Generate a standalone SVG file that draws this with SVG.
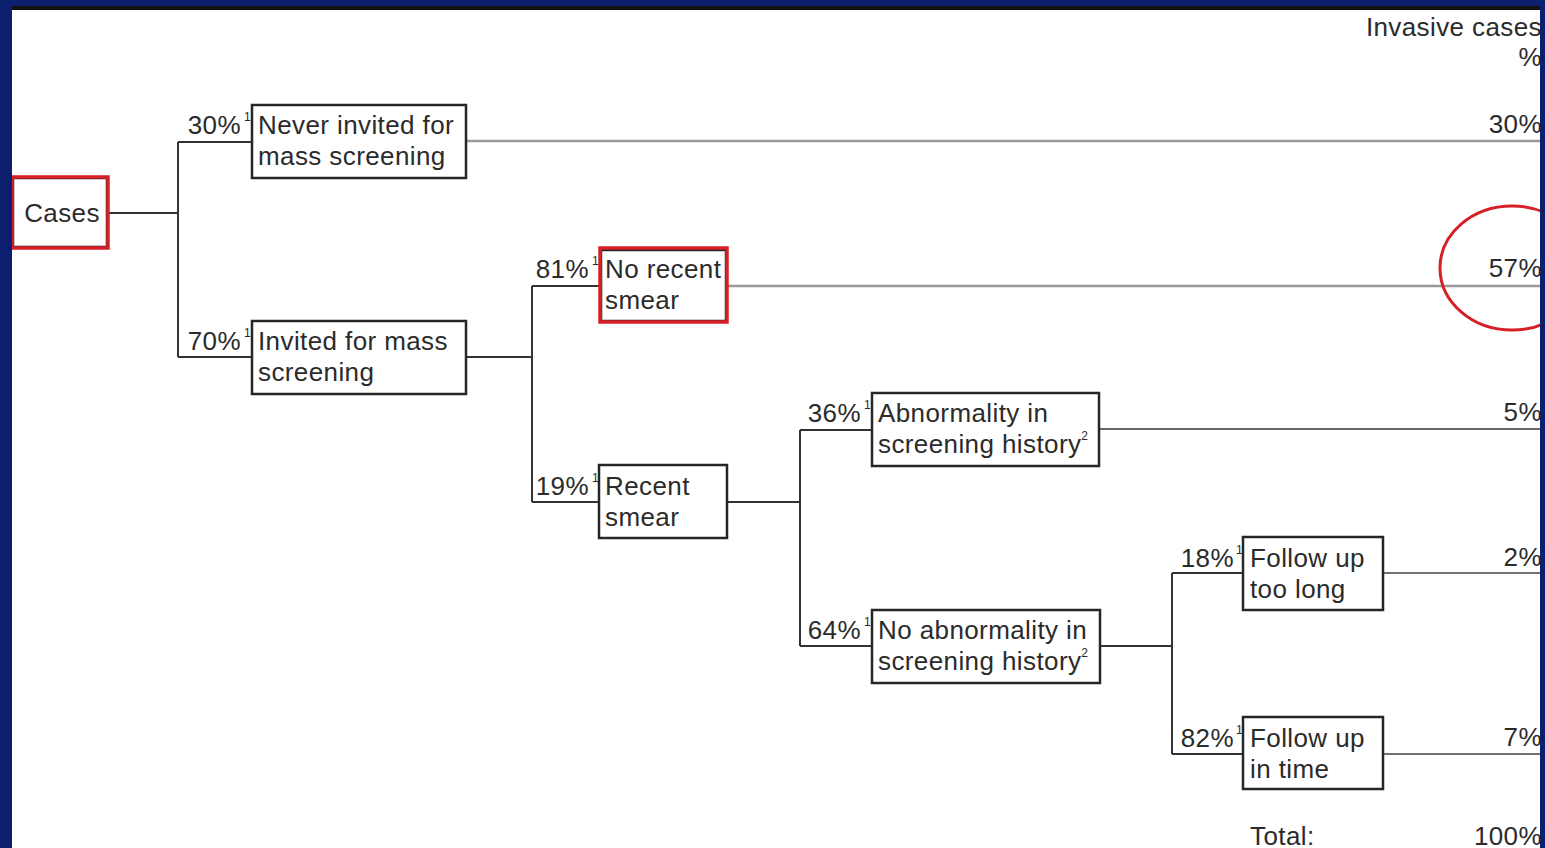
<svg xmlns="http://www.w3.org/2000/svg" width="1545" height="848" viewBox="0 0 1545 848">
<style>
text{font-family:"Liberation Sans",Arial,sans-serif;font-size:26px;fill:#2b2b2b;letter-spacing:0.4px}
.sup{font-size:12px;letter-spacing:0}
.r{text-anchor:end}
.box{fill:#fff;stroke:#262626;stroke-width:2.5}
.red{fill:none;stroke:#d61f26;stroke-width:3.5}
.c{fill:none;stroke:#333;stroke-width:2}
.lg{fill:none;stroke:#999;stroke-width:2.5}
.lm{fill:none;stroke:#666;stroke-width:2}
.ld{fill:none;stroke:#444;stroke-width:1.6}
</style>
<rect width="1545" height="848" fill="#fff"/>
<g id="connectors">
<path class="c" d="M109 213H178M178 142V357M178 142H252M178 357H252"/>
<path class="c" d="M466 357H532M532 286V502M532 286H600M532 502H599"/>
<path class="c" d="M727 502H800M800 430V646M800 430H872M800 646H872"/>
<path class="c" d="M1100 646H1172M1172 573V754M1172 573H1243M1172 754H1243"/>
<path class="lg" d="M466 141H1545"/>
<path class="lg" d="M727 286H1545"/>
<path class="lm" d="M1099 429H1545"/>
<path class="ld" d="M1383 573H1545M1383 754H1545"/>
</g>
<g id="cases">
<rect class="box" x="13" y="178" width="94" height="69" stroke="#555"/>
<rect class="red" x="12" y="177" width="96" height="71"/>
<text x="62" y="222" text-anchor="middle">Cases</text>
</g>
<g id="never-invited">
<rect class="box" x="252" y="105" width="214" height="73"/>
<text class="r" x="241" y="134">30%</text><text class="sup" x="244" y="121">1</text>
<text x="258" y="134">Never invited for</text>
<text x="258" y="165">mass screening</text>
</g>
<g id="invited">
<rect class="box" x="252" y="321" width="214" height="73"/>
<text class="r" x="241" y="350">70%</text><text class="sup" x="244" y="337">1</text>
<text x="258" y="350">Invited for mass</text>
<text x="258" y="381">screening</text>
</g>
<g id="no-recent-smear">
<rect class="box" x="601" y="250" width="125" height="71"/>
<rect class="red" x="600" y="248" width="127" height="74"/>
<text class="r" x="589" y="278">81%</text><text class="sup" x="592" y="265">1</text>
<text x="605" y="278">No recent</text>
<text x="605" y="309">smear</text>
</g>
<g id="recent-smear">
<rect class="box" x="599" y="465" width="128" height="73"/>
<text class="r" x="589" y="495">19%</text><text class="sup" x="592" y="482">1</text>
<text x="605" y="495">Recent</text>
<text x="605" y="526">smear</text>
</g>
<g id="abnormality">
<rect class="box" x="872" y="393" width="227" height="73"/>
<text class="r" x="861" y="422">36%</text><text class="sup" x="864" y="409">1</text>
<text x="878" y="422">Abnormality in</text>
<text x="878" y="453">screening history<tspan class="sup" dy="-13">2</tspan></text>
</g>
<g id="no-abnormality">
<rect class="box" x="872" y="610" width="228" height="73"/>
<text class="r" x="861" y="639">64%</text><text class="sup" x="864" y="626">1</text>
<text x="878" y="639">No abnormality in</text>
<text x="878" y="670">screening history<tspan class="sup" dy="-13">2</tspan></text>
</g>
<g id="follow-up-too-long">
<rect class="box" x="1243" y="537" width="140" height="73"/>
<text class="r" x="1234" y="567">18%</text><text class="sup" x="1236" y="554">1</text>
<text x="1250" y="567">Follow up</text>
<text x="1250" y="598">too long</text>
</g>
<g id="follow-up-in-time">
<rect class="box" x="1243" y="717" width="140" height="72"/>
<text class="r" x="1234" y="747">82%</text><text class="sup" x="1236" y="734">1</text>
<text x="1250" y="747">Follow up</text>
<text x="1250" y="778">in time</text>
</g>
<g id="results">
<text class="r" x="1542" y="36">Invasive cases</text>
<text class="r" x="1542" y="66">%</text>
<text class="r" x="1542" y="133">30%</text>
<text class="r" x="1542" y="277">57%</text>
<text class="r" x="1542" y="421">5%</text>
<text class="r" x="1542" y="566">2%</text>
<text class="r" x="1542" y="746">7%</text>
<text x="1250" y="845">Total:</text>
<text class="r" x="1542" y="845">100%</text>
</g>
<ellipse cx="1512" cy="268" rx="72" ry="62" fill="none" stroke="#d61f26" stroke-width="3"/>
<g id="frame">
<rect x="0" y="0" width="1545" height="6" fill="#0c1f6e"/>
<rect x="12" y="6" width="1528" height="4" fill="#111"/>
<rect x="0" y="0" width="12" height="848" fill="#0c1f6e"/>
<rect x="1540" y="0" width="5" height="848" fill="#0c1f6e"/>
</g>
</svg>
